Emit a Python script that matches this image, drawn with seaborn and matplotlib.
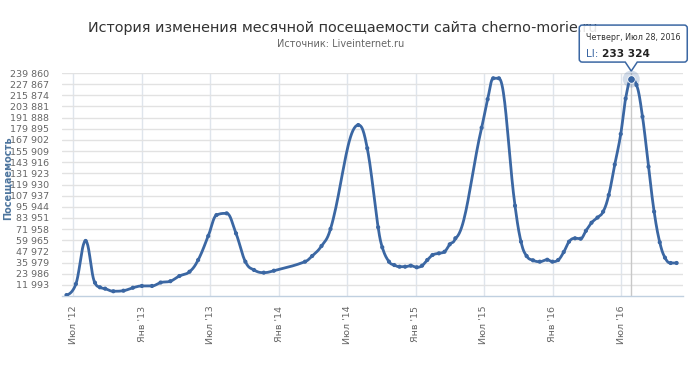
import numpy as np
import pandas as pd
import matplotlib
matplotlib.use("Agg")
import matplotlib.pyplot as plt
import matplotlib.dates as mdates
import seaborn as sns
from matplotlib.path import Path
from matplotlib.patches import PathPatch
from matplotlib.transforms import IdentityTransform

# ---------------- data ----------------
title = "История изменения месячной посещаемости сайта cherno-morie.ru"
subtitle = "Источник: Liveinternet.ru"
y_title = "Посещаемость"
series_name = "LI"

dates = [
    "2012-06-13", "2012-07-08", "2012-08-03", "2012-08-28", "2012-09-10", "2012-09-24",
    "2012-10-16", "2012-11-12", "2012-12-07", "2012-12-31", "2013-01-27", "2013-02-19",
    "2013-03-17", "2013-04-10", "2013-05-07", "2013-05-30", "2013-06-26", "2013-07-18",
    "2013-08-14", "2013-09-08", "2013-10-03", "2013-10-26", "2013-11-21", "2013-12-18",
    "2014-03-11", "2014-03-30", "2014-04-24", "2014-05-18", "2014-07-31", "2014-08-24",
    "2014-09-22", "2014-10-03", "2014-10-21", "2014-11-04", "2014-11-18", "2014-12-03",
    "2014-12-18", "2015-01-03", "2015-01-17", "2015-01-31", "2015-02-14", "2015-03-03",
    "2015-03-18", "2015-04-01", "2015-04-16", "2015-06-25", "2015-07-11", "2015-07-26",
    "2015-08-10", "2015-09-22", "2015-10-08", "2015-10-23", "2015-11-09", "2015-11-27",
    "2015-12-17", "2015-12-31", "2016-01-15", "2016-01-30", "2016-02-13", "2016-02-29",
    "2016-03-15", "2016-03-29", "2016-04-13", "2016-04-29", "2016-05-14", "2016-05-29",
    "2016-06-14", "2016-06-30", "2016-07-13", "2016-07-28", "2016-08-11", "2016-08-27",
    "2016-09-12", "2016-09-27", "2016-10-12", "2016-10-26", "2016-11-10", "2016-11-26",
]
visits = [
    1000, 12900, 59200, 14300, 9400, 7900,
    5100, 5700, 8900, 10800, 10800, 14500,
    15900, 21500, 26100, 38700, 64500, 87100,
    88900, 67400, 36900, 28000, 25100, 27200,
    36900, 43000, 53800, 72100, 183900, 158900,
    73900, 52400, 36900, 33300, 31500, 31500,
    32600, 30900, 32600, 38700, 44100, 45900,
    47600, 55600, 62100, 181000, 211600, 234200,
    234200, 97100, 58400, 43000, 38400, 36900,
    39000, 36900, 38700, 47300, 58400, 62100,
    61600, 70100, 78800, 84400, 90700, 108600,
    141400, 174200, 212400, 233324, 227000, 192900,
    139100, 90700, 57800, 41200, 35500, 35500,
]

tick_dates = ["2012-07-01", "2013-01-01", "2013-07-01", "2014-01-01", "2014-07-01",
              "2015-01-01", "2015-07-01", "2016-01-01", "2016-07-01"]
tick_labels = ["Июл '12", "Янв '13", "Июл '13", "Янв '14", "Июл '14",
               "Янв '15", "Июл '15", "Янв '16", "Июл '16"]
y_ticks = [11993, 23986, 35979, 47972, 59965, 71958, 83951, 95944, 107937, 119930,
           131923, 143916, 155909, 167902, 179895, 191888, 203881, 215874, 227867, 239860]
x_range = ["2012-06-01", "2016-12-13"]
hover_date = "2016-07-28"
hover_text = "Четверг, Июл 28, 2016"

# ---------------- helpers ----------------
def hc_spline(xs, ys, n=24):
    """Highcharts-style spline (smoothing 1.5) returned as sampled points."""
    xs = np.asarray(xs, float); ys = np.asarray(ys, float)
    N = len(xs)
    lcx, lcy = xs.copy(), ys.copy()
    rcx, rcy = xs.copy(), ys.copy()
    sm, den = 1.5, 2.5
    for i in range(1, N - 1):
        x, y = xs[i], ys[i]
        lx = (sm * x + xs[i - 1]) / den; ly = (sm * y + ys[i - 1]) / den
        rx = (sm * x + xs[i + 1]) / den; ry = (sm * y + ys[i + 1]) / den
        if rx != lx:
            corr = (ry - ly) * (rx - x) / (rx - lx) + y - ry
            ly += corr; ry += corr
            py, ny = ys[i - 1], ys[i + 1]
            if ly > py and ly > y:
                ly = max(py, y); ry = 2 * y - ly
            elif ly < py and ly < y:
                ly = min(py, y); ry = 2 * y - ly
            if ry > ny and ry > y:
                ry = max(ny, y); ly = 2 * y - ry
            elif ry < ny and ry < y:
                ry = min(ny, y); ly = 2 * y - ry
        lcx[i], lcy[i], rcx[i], rcy[i] = lx, ly, rx, ry
    t = np.linspace(0, 1, n)[1:]
    outx, outy = [xs[0]], [ys[0]]
    for i in range(N - 1):
        p0x, p0y = xs[i], ys[i]
        p1x, p1y = rcx[i], rcy[i]
        p2x, p2y = lcx[i + 1], lcy[i + 1]
        p3x, p3y = xs[i + 1], ys[i + 1]
        a = (1 - t) ** 3; b = 3 * (1 - t) ** 2 * t; c = 3 * (1 - t) * t ** 2; d = t ** 3
        outx.extend(a * p0x + b * p1x + c * p2x + d * p3x)
        outy.extend(a * p0y + b * p1y + c * p2y + d * p3y)
    return np.array(outx), np.array(outy)

# ---------------- figure ----------------
sns.set_theme(style="white")
plt.rcParams["font.family"] = ["DejaVu Sans"]

W, H = 690, 370
fig = plt.figure(figsize=(W / 100, H / 100), dpi=100)
L, R, T, B = 62, 683, 73, 296
ax = fig.add_axes([L / W, 1 - B / H, (R - L) / W, (B - T) / H])

color = "#3b67a3"
xnum = mdates.date2num(pd.to_datetime(dates))
sx, sy = hc_spline(xnum, visits)

df_line = pd.DataFrame({"x": sx, "y": sy})
df_pts = pd.DataFrame({"x": xnum, "y": visits})

sns.lineplot(data=df_line, x="x", y="y", ax=ax, color=color, linewidth=2.0,
             sort=False, estimator=None, zorder=3)
sns.scatterplot(data=df_pts, x="x", y="y", ax=ax, color=color, s=9,
                edgecolor="none", zorder=4)

ax.set_xlim(mdates.date2num(pd.to_datetime(x_range)))
ax.set_ylim(0, y_ticks[-1])

tnum = mdates.date2num(pd.to_datetime(tick_dates))
ax.set_xticks(tnum)
ax.set_xticklabels(tick_labels, rotation=90, fontsize=6.8, color="#666666")
ax.set_yticks(y_ticks)
ax.set_yticklabels([f"{v:,}".replace(",", " ") for v in y_ticks],
                   fontsize=6.8, color="#666666")
ax.tick_params(axis="y", length=0, pad=9)
ax.tick_params(axis="x", length=5, width=1, color="#c0d0e0", pad=2)

ax.grid(axis="y", color="#e2e2e2", linewidth=1)
ax.grid(axis="x", color="#dfe5ec", linewidth=1)
ax.set_axisbelow(True)
for s in ["top", "right", "left"]:
    ax.spines[s].set_visible(False)
ax.spines["bottom"].set_color("#c0d0e0")
ax.spines["bottom"].set_linewidth(1)

ax.set_xlabel("")
ax.set_ylabel(y_title, fontsize=7.0, fontweight="bold", color="#4d759e")
ax.yaxis.label.set_verticalalignment("center")
ax.yaxis.set_label_coords((7.5 - L) / (R - L), (B - 178) / (B - T))

fig.text(343 / W, 1 - 28 / H, title, ha="center", va="center",
         fontsize=10.35, color="#333333")
fig.text(341 / W, 1 - 44 / H, subtitle, ha="center", va="center",
         fontsize=7, color="#666666")

# ---------------- hover state ----------------
hx = mdates.date2num(pd.Timestamp(hover_date))
hy = visits[dates.index(hover_date)]
ax.axvline(hx, color="#c8c8c8", linewidth=1, zorder=2)
ax.scatter([hx], [hy], s=150, color=color, alpha=0.22, edgecolor="none", zorder=5,
           clip_on=False)
ax.scatter([hx], [hy], s=30, color=color, edgecolor="white", linewidth=0.6, zorder=6,
           clip_on=False)

fig.canvas.draw()
px, py = ax.transData.transform((hx, hy))
bl, br = px - 52, min(px + 56, W - 2)
bt, bb = py + 54, py + 17
tip = py + 8
r = 3
verts = [(bl + r, bt), (br - r, bt), (br, bt), (br, bt - r), (br, bb + r), (br, bb),
         (br - r, bb), (px + 6, bb), (px, tip), (px - 6, bb), (bl + r, bb), (bl, bb),
         (bl, bb + r), (bl, bt - r), (bl, bt), (bl + r, bt), (bl + r, bt)]
C3, LT = Path.CURVE3, Path.LINETO
codes = [Path.MOVETO, LT, C3, C3, LT, C3, C3, LT, LT, LT, LT, C3, C3, LT, C3, C3,
         Path.CLOSEPOLY]
tip_patch = PathPatch(Path(verts, codes), facecolor=(1, 1, 1, 0.88), edgecolor=color,
                      linewidth=1.1, transform=IdentityTransform(), zorder=10)
fig.add_artist(tip_patch)

fig.text(bl + 7, bt - 12, hover_text, transform=IdentityTransform(), fontsize=5.8,
         color="#333333", va="center", ha="left", zorder=11)
t1 = fig.text(bl + 7, bb + 8, f"{series_name}: ", transform=IdentityTransform(),
              fontsize=7.6, color=color, va="center", ha="left", zorder=11)
w1 = t1.get_window_extent(fig.canvas.get_renderer()).width
fig.text(bl + 7 + w1, bb + 8, f"{hy:,}".replace(",", " "), transform=IdentityTransform(),
         fontsize=7.6, fontweight="bold", color="#222222", zorder=11,
         ha="left", va="center")

fig.savefig("out.png", dpi=100)
